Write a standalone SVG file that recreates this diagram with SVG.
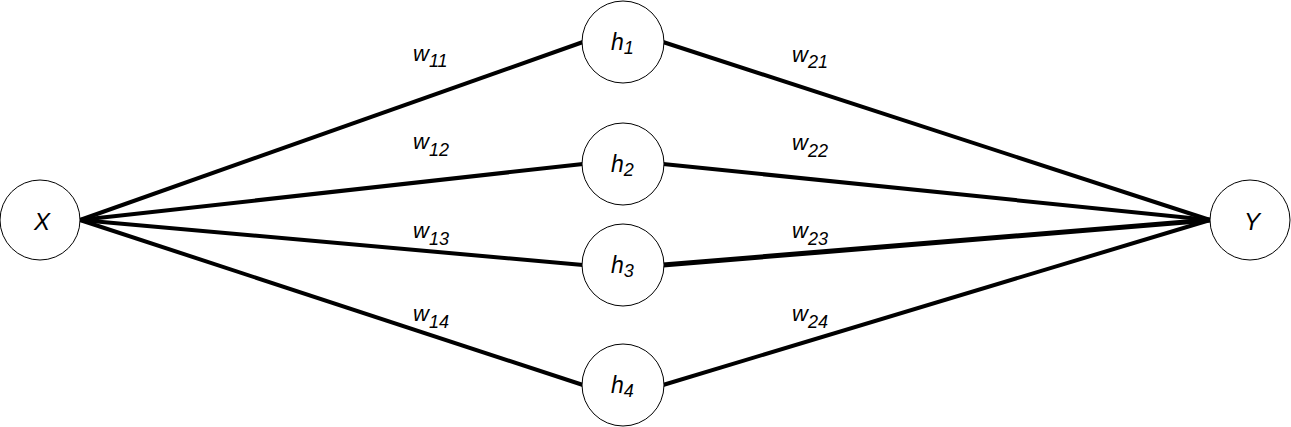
<svg xmlns="http://www.w3.org/2000/svg" width="1291" height="427" viewBox="0 0 1291 427">
<style>
.n{fill:#fff;stroke:#000;stroke-width:1}
.e{stroke:#000;stroke-width:4;fill:none;stroke-linecap:butt}
.t{font-family:"Liberation Sans",Arial,sans-serif;font-style:italic;fill:#000}
.big{font-size:24px}
.h{font-size:23px}
.w{font-size:22px}
.s{font-size:18px}
</style>
<rect width="1291" height="427" fill="#fff"/>
<g id="connectors">
<line class="e" x1="80" y1="220" x2="583" y2="42"/>
<line class="e" x1="80" y1="220" x2="583" y2="164"/>
<line class="e" x1="80" y1="220" x2="583" y2="265"/>
<line class="e" x1="80" y1="220" x2="583" y2="385"/>
<line class="e" x1="663" y1="42" x2="1210" y2="220"/>
<line class="e" x1="663" y1="164" x2="1210" y2="220"/>
<line class="e" x1="663" y1="265" x2="1210" y2="220" style="stroke-width:5"/>
<line class="e" x1="663" y1="385" x2="1210" y2="220"/>
</g>
<g id="labels">
<text class="t w" x="413" y="61">w<tspan class="s" dy="6">11</tspan></text>
<text class="t w" x="413" y="149">w<tspan class="s" dy="7">12</tspan></text>
<text class="t w" x="413" y="238">w<tspan class="s" dy="7">13</tspan></text>
<text class="t w" x="413" y="321">w<tspan class="s" dy="7">14</tspan></text>
<text class="t w" x="792" y="62">w<tspan class="s" dy="6">21</tspan></text>
<text class="t w" x="792" y="150">w<tspan class="s" dy="7">22</tspan></text>
<text class="t w" x="792" y="238">w<tspan class="s" dy="7">23</tspan></text>
<text class="t w" x="792" y="321">w<tspan class="s" dy="7">24</tspan></text>
</g>
<g id="X"><circle class="n" cx="40" cy="220" r="40"/><text class="t big" x="42" y="230" text-anchor="middle">X</text></g>
<g id="Y"><circle class="n" cx="1250" cy="220" r="40"/><text class="t big" x="1252" y="230" text-anchor="middle">Y</text></g>
<g id="h1"><circle class="n" cx="623" cy="42" r="41"/><text class="t h" x="611" y="50">h<tspan class="s" dy="4">1</tspan></text></g>
<g id="h2"><circle class="n" cx="623" cy="164" r="41"/><text class="t h" x="611" y="172">h<tspan class="s" dy="4">2</tspan></text></g>
<g id="h3"><circle class="n" cx="623" cy="265" r="41"/><text class="t h" x="611" y="273">h<tspan class="s" dy="4">3</tspan></text></g>
<g id="h4"><circle class="n" cx="623" cy="385" r="41"/><text class="t h" x="611" y="393">h<tspan class="s" dy="4">4</tspan></text></g>
</svg>
